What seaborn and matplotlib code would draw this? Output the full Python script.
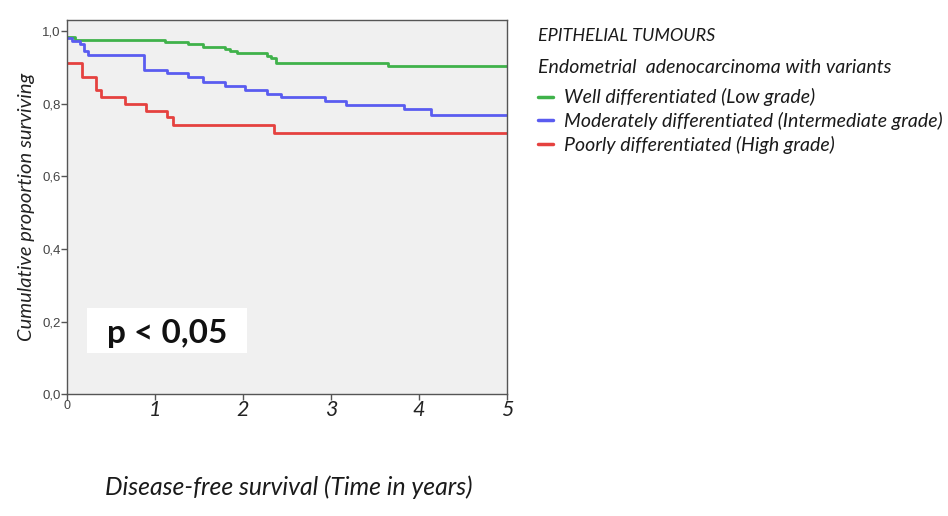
import matplotlib
matplotlib.use("Agg")
import matplotlib.pyplot as plt
from matplotlib.patches import Rectangle
import numpy as np
import pandas as pd
import seaborn as sns

# Kaplan-Meier step curves (time in years, survival proportion)
well_t = [0.0, 0.09, 1.12, 1.38, 1.55, 1.80, 1.86, 1.93, 2.27, 2.32, 2.38, 3.65, 5.0]
well_s = [0.984, 0.975, 0.970, 0.963, 0.957, 0.951, 0.945, 0.939, 0.932, 0.925, 0.913, 0.905, 0.905]

moderate_t = [0.0, 0.06, 0.15, 0.20, 0.24, 0.88, 1.14, 1.38, 1.55, 1.80, 2.03, 2.27,
              2.43, 2.93, 3.17, 3.83, 4.14, 5.0]
moderate_s = [0.982, 0.973, 0.963, 0.945, 0.934, 0.893, 0.884, 0.873, 0.861, 0.849, 0.838, 0.827,
              0.818, 0.806, 0.795, 0.784, 0.768, 0.768]

poor_t = [0.0, 0.17, 0.33, 0.39, 0.66, 0.90, 1.14, 1.21, 2.36, 5.0]
poor_s = [0.911, 0.874, 0.838, 0.818, 0.798, 0.781, 0.763, 0.740, 0.718, 0.718]

group_names = ["Well differentiated (Low grade)",
               "Moderately differentiated (Intermediate grade)",
               "Poorly differentiated (High grade)"]
group_colors = ["#3fb24a", "#5a5cf0", "#e5413f"]

y_ticks = [0.0, 0.2, 0.4, 0.6, 0.8, 1.0]
x_ticks = [0, 1, 2, 3, 4, 5]

frames = []
for name, t, s in zip(group_names, [well_t, moderate_t, poor_t], [well_s, moderate_s, poor_s]):
    frames.append(pd.DataFrame({"time": t, "surv": s, "group": name}))
df = pd.concat(frames, ignore_index=True)

sns.set_style("white")
plt.rcParams["font.family"] = ["Lato", "DejaVu Sans"]

fig = plt.figure(figsize=(9.48, 5.16), dpi=100)
ax = fig.add_axes([0.0703, 0.236, 0.4645, 0.725])
ax.set_facecolor("#f0f0f0")

sns.lineplot(data=df, x="time", y="surv", hue="group", hue_order=group_names,
             palette=group_colors, estimator=None, sort=False, drawstyle="steps-post",
             linewidth=2.0, legend=False, ax=ax)

ax.set_xlim(0, 5)
ax.set_ylim(0, 1.03)
for sp in ax.spines.values():
    sp.set_color("#555555")
    sp.set_linewidth(1.0)

ax.set_yticks(y_ticks)
ax.set_yticklabels([f"{v:.1f}".replace(".", ",") for v in y_ticks],
                   fontsize=9.5, color="#444444", family="Liberation Sans")
ax.set_xticks(x_ticks)
ax.set_xticklabels([str(v) for v in x_ticks], fontsize=15.5, style="italic", color="#222222")
first = ax.get_xticklabels()[0]
first.set_fontsize(9)
first.set_style("normal")
first.set_color("#444444")
first.set_family("Liberation Sans")
ax.tick_params(axis="both", which="major", length=4, width=1, color="#555555",
               direction="out", left=True, bottom=True, pad=0.5)

ax.set_xlabel("")
ax.set_ylabel("Cumulative proportion surviving", fontsize=14.5, style="italic",
              color="#222222", labelpad=5)

fig.text(0.305, 0.055, "Disease-free survival (Time in years)", fontsize=17.8,
         style="italic", color="#1a1a1a", ha="center", va="center")

# p-value box
ax.add_patch(Rectangle((0.046, 0.11), 0.364, 0.12, transform=ax.transAxes,
                       facecolor="white", edgecolor="none", zorder=3))
ax.text(0.228, 0.163, "p < 0,05", transform=ax.transAxes, fontsize=24,
        fontweight="bold", ha="center", va="center", zorder=4, color="#111111")

# legend block to the right
fig.text(0.567, 0.93, "EPITHELIAL TUMOURS", fontsize=13, style="italic",
         color="#1a1a1a", va="center")
fig.text(0.567, 0.87, "Endometrial  adenocarcinoma with variants", fontsize=14,
         style="italic", color="#1a1a1a", va="center")
handles = [plt.Line2D([], [], color=c, linewidth=2.5) for c in group_colors]
fig.legend(handles, group_names, loc="upper left", bbox_to_anchor=(0.5675, 0.829),
           frameon=False, borderpad=0, borderaxespad=0, handlelength=0.75,
           handletextpad=0.57, labelspacing=0.3,
           prop={"size": 14, "style": "italic"}, labelcolor="#1a1a1a")

fig.savefig("out.png", dpi=100)
plt.close(fig)
